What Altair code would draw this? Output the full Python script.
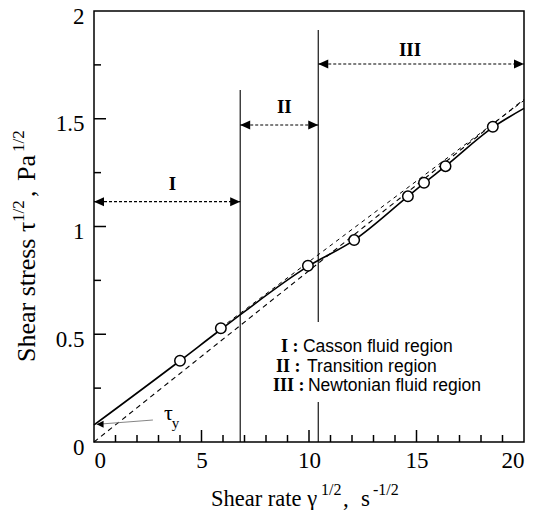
import altair as alt
import pandas as pd

# ---------------- data ----------------
pts_x = [4.0, 5.9, 9.95, 12.1, 14.6, 15.35, 16.35, 18.55]
pts_y = [0.377, 0.528, 0.818, 0.937, 1.140, 1.203, 1.280, 1.463]

fit_x = [0.0, 4.0, 5.9, 9.95, 12.1, 14.6, 15.35, 16.35, 18.55, 20.0]
fit_y = [0.079, 0.377, 0.522, 0.815, 0.937, 1.140, 1.201, 1.280, 1.460, 1.548]

newton_x = [0.0, 20.0]
newton_y = [0.0, 1.59]

ext_x = [5.9, 20.0]
ext_y = [0.53, 1.585]

bound_x = [6.8, 10.43, 10.43]
bound_y = [0.0, 0.0, 0.557]
bound_y2 = [1.633, 0.186, 1.912]

region_names = ["I", "II", "III"]
region_start = [0.0, 6.8, 10.43]
region_end = [6.8, 10.43, 20.0]
region_arrow_y = [1.115, 1.471, 1.754]
region_label_x = [3.65, 8.85, 14.7]
region_label_y = [1.169, 1.527, 1.791]

legend_num = ["I :", "II :", "III :"]
legend_text = ["Casson fluid region", "Transition region", "Newtonian fluid region"]
legend_num_x = [8.70, 8.47, 8.33]
legend_text_x = [9.72, 9.91, 9.95]
legend_y = [0.418, 0.325, 0.237]

tau_y_value = 0.082
x_major = [5, 10, 15]
x_minor = [1, 2, 3, 4, 6, 7, 8, 9, 11, 12, 13, 14, 16, 17, 18, 19]
y_major = [0.5, 1.0, 1.5]
y_minor = [0.25, 0.75, 1.25, 1.75]
x_labels = [0, 5, 10, 15, 20]
y_labels = [0, 0.5, 1, 1.5, 2]

# ---------------- chart ----------------
W, H = 430, 431
SERIF = "Liberation Serif"
SANS = "Liberation Sans"

X = alt.Scale(domain=[0, 20], nice=False, zero=False)
Y = alt.Scale(domain=[0, 2], nice=False, zero=False)

pts = pd.DataFrame({"x": pts_x, "y": pts_y})
fit = pd.DataFrame({"x": fit_x, "y": fit_y})
newton = pd.DataFrame({"x": newton_x, "y": newton_y})
ext = pd.DataFrame({"x": ext_x, "y": ext_y})
bounds = pd.DataFrame({"x": bound_x, "y": bound_y, "y2": bound_y2})
regions = pd.DataFrame({"name": region_names, "x0": region_start, "x1": region_end,
                        "ay": region_arrow_y, "lx": region_label_x, "ly": region_label_y})
legend = pd.DataFrame({"num": legend_num, "text": legend_text, "nx": legend_num_x,
                       "tx": legend_text_x, "y": legend_y})

x_ax = alt.Axis(values=x_labels, format="~g", ticks=False, domain=False, grid=False,
                labelFont=SERIF, labelFontSize=23, labelColor="black", labelPadding=7,
                labelAngle=0, title=None)
y_ax = alt.Axis(values=y_labels, format="~g", ticks=False, domain=False, grid=False,
                labelFont=SERIF, labelFontSize=23, labelColor="black", labelPadding=10,
                labelOffset=5, title=None)

newton_line = alt.Chart(newton).mark_line(color="black", strokeWidth=1.1, strokeDash=[5, 4]).encode(
    x=alt.X("x:Q", scale=X, axis=x_ax), y=alt.Y("y:Q", scale=Y, axis=y_ax))
ext_line = alt.Chart(ext).mark_line(color="black", strokeWidth=1.0, strokeDash=[4, 4]).encode(
    x=alt.X("x:Q", scale=X), y=alt.Y("y:Q", scale=Y))
fit_line = alt.Chart(fit).mark_line(color="black", strokeWidth=1.6, interpolate="monotone").encode(
    x=alt.X("x:Q", scale=X), y=alt.Y("y:Q", scale=Y))
points = alt.Chart(pts).mark_point(shape="circle", filled=True, fill="white", stroke="black",
                                   strokeWidth=1.5, size=110, opacity=1).encode(
    x=alt.X("x:Q", scale=X), y=alt.Y("y:Q", scale=Y))

bound_rules = alt.Chart(bounds).mark_rule(color="black", strokeWidth=1.1).encode(
    x=alt.X("x:Q", scale=X), y=alt.Y("y:Q", scale=Y), y2="y2:Q")

arrow_rules = alt.Chart(regions).mark_rule(color="black", strokeWidth=1.2, strokeDash=[3, 2]).encode(
    x=alt.X("x0:Q", scale=X), x2="x1:Q", y=alt.Y("ay:Q", scale=Y))
head_left = alt.Chart(regions).mark_point(shape="M0,0L1,-0.45L1,0.45Z", filled=True, color="black",
                                          size=400, opacity=1, strokeWidth=0).encode(
    x=alt.X("x0:Q", scale=X), y=alt.Y("ay:Q", scale=Y))
head_right = alt.Chart(regions).mark_point(shape="M0,0L-1,-0.45L-1,0.45Z", filled=True, color="black",
                                           size=400, opacity=1, strokeWidth=0).encode(
    x=alt.X("x1:Q", scale=X), y=alt.Y("ay:Q", scale=Y))
region_text = alt.Chart(regions).mark_text(font=SERIF, fontWeight="bold", fontSize=19, color="black",
                                           align="center", baseline="alphabetic").encode(
    x=alt.X("lx:Q", scale=X), y=alt.Y("ly:Q", scale=Y), text="name:N")

legend_num_t = alt.Chart(legend).mark_text(font=SERIF, fontWeight="bold", fontSize=18, color="black",
                                           align="left", baseline="alphabetic").encode(
    x=alt.X("nx:Q", scale=X), y=alt.Y("y:Q", scale=Y), text="num:N")
legend_txt_t = alt.Chart(legend).mark_text(font=SANS, fontSize=17.5, color="black",
                                           align="left", baseline="alphabetic").encode(
    x=alt.X("tx:Q", scale=X), y=alt.Y("y:Q", scale=Y), text="text:N")

# yield-stress annotation
tau = pd.DataFrame({"x": [0.12], "y": [tau_y_value], "x2": [2.74], "y2": [0.102],
                    "tx": [3.26], "ty": [0.102], "sx": [3.62], "sy": [0.064]})
tau_seg = alt.Chart(tau).mark_rule(color="#777777", strokeWidth=0.9).encode(
    x=alt.X("x:Q", scale=X), y=alt.Y("y:Q", scale=Y), x2="x2:Q", y2="y2:Q")
tau_head = alt.Chart(tau).mark_point(shape="M0,0L1,-0.5L1,0.5Z", filled=True, color="black",
                                     size=196, opacity=1, strokeWidth=0).encode(
    x=alt.X("x:Q", scale=X), y=alt.Y("y:Q", scale=Y))
tau_t = alt.Chart(tau).mark_text(text="τ", font=SERIF, fontSize=22, color="black",
                                 align="left", baseline="alphabetic").encode(
    x=alt.X("tx:Q", scale=X), y=alt.Y("ty:Q", scale=Y))
tau_s = alt.Chart(tau).mark_text(text="y", font=SERIF, fontSize=15, color="black",
                                 align="left", baseline="alphabetic").encode(
    x=alt.X("sx:Q", scale=X), y=alt.Y("sy:Q", scale=Y))

# inward axis ticks
xt_minor = alt.Chart(pd.DataFrame({"v": x_minor})).mark_rule(color="black", strokeWidth=1.5).encode(
    x=alt.X("v:Q", scale=X), y=alt.value(H), y2=alt.value(H - 7))
xt_major = alt.Chart(pd.DataFrame({"v": x_major})).mark_rule(color="black", strokeWidth=1.5).encode(
    x=alt.X("v:Q", scale=X), y=alt.value(H), y2=alt.value(H - 12))
yt_minor = alt.Chart(pd.DataFrame({"v": y_minor})).mark_rule(color="black", strokeWidth=1.5).encode(
    y=alt.Y("v:Q", scale=Y), x=alt.value(0), x2=alt.value(7))
yt_major = alt.Chart(pd.DataFrame({"v": y_major})).mark_rule(color="black", strokeWidth=1.5).encode(
    y=alt.Y("v:Q", scale=Y), x=alt.value(0), x2=alt.value(12))

# axis titles built from pieces (normal + superscript)
def piece(text, x, y, size, angle=0):
    return alt.Chart(pd.DataFrame({"a": [0]})).mark_text(
        text=text, font=SERIF, fontSize=size, color="black", align="left",
        baseline="alphabetic", angle=angle).encode(x=alt.value(x), y=alt.value(y))

xtitle = [
    piece("Shear rate γ", 117, 495, 22.5),
    piece("1/2", 227, 484, 16),
    piece(",", 249, 495, 23),
    piece("s", 267, 495, 23),
    piece("-1/2", 279, 484, 16),
]
ytitle = [
    piece("Shear stress τ", -59, 351, 26, 270),
    piece("1/2", -70, 211, 17, 270),
    piece(",", -59, 186, 26, 270),
    piece("Pa", -59, 170, 26, 270),
    piece("1/2", -70, 141, 17, 270),
]

chart = alt.layer(
    newton_line, ext_line, fit_line, bound_rules, arrow_rules, head_left, head_right,
    region_text, tau_seg, tau_head, tau_t, tau_s, points, legend_num_t, legend_txt_t,
    xt_minor, xt_major, yt_minor, yt_major, *xtitle, *ytitle
).properties(
    width=W, height=H,
    autosize=alt.AutoSizeParams(type="none"),
    padding={"left": 86, "top": 3, "right": 11, "bottom": 68},
    background="white",
).configure_view(stroke="black", strokeWidth=1.5)

chart.save("out.html", embed_options={"renderer": "svg", "actions": False})
